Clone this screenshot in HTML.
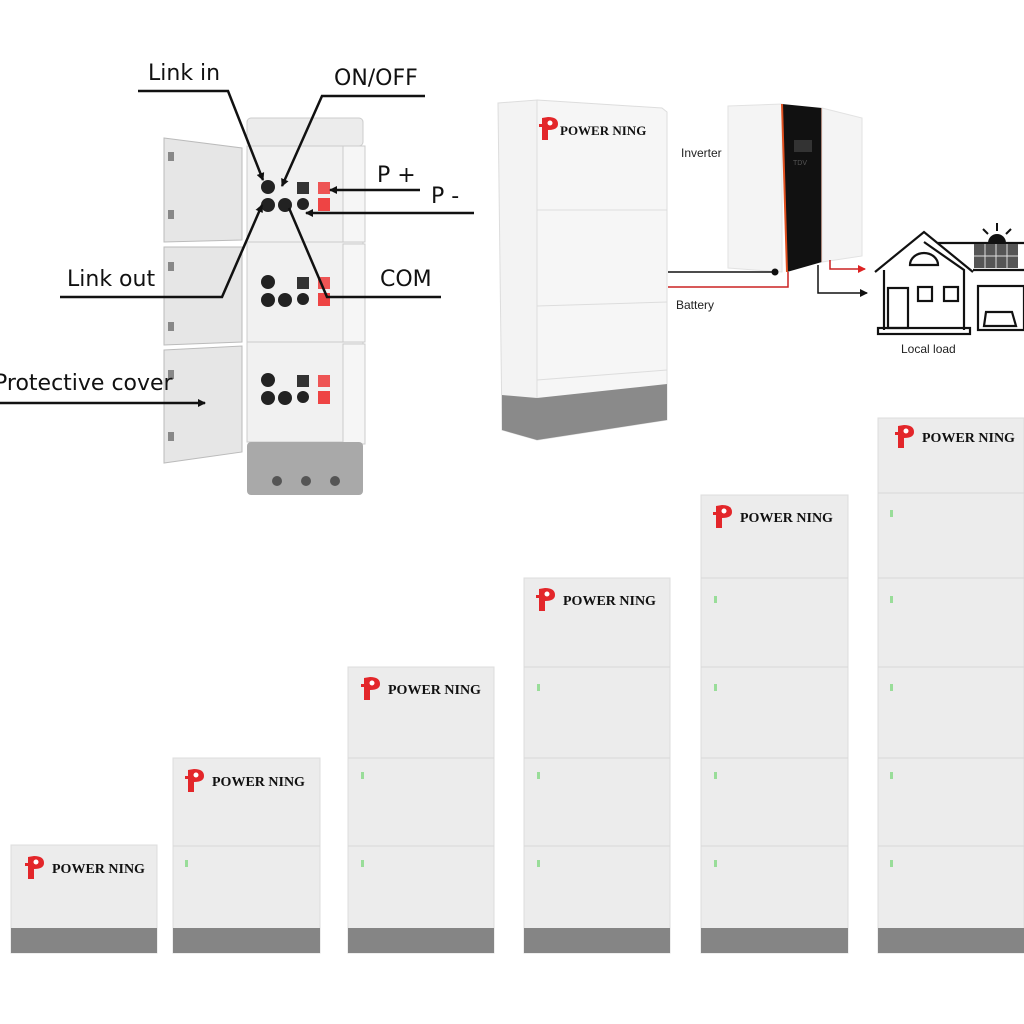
<!DOCTYPE html>
<html><head><meta charset="utf-8"><style>
html,body{margin:0;padding:0;background:#fff;width:1024px;height:1024px;overflow:hidden}
svg{display:block}
.lbl{font-family:"DejaVu Sans","Liberation Sans",sans-serif;font-size:22px;fill:#111}
.sm{font-family:"Liberation Sans",sans-serif;font-size:12px;fill:#222}
.logo{font-family:"Liberation Serif",serif;font-weight:bold;fill:#111}
</style></head><body>
<svg width="1024" height="1024" viewBox="0 0 1024 1024" xmlns="http://www.w3.org/2000/svg">
<defs>
<g id="plogo">
<path d="M0,-8 L0,14 L6,14 L6,4 Q16,4 16,-2 Q16,-9 6,-9 Z" fill="#e3262a"/>
<path d="M-3,-2 L4,-2 L4,1 L-3,1 Z" fill="#e3262a"/>
<circle cx="8" cy="-3" r="2.5" fill="#fff"/>
</g>
<marker id="ah" markerWidth="8" markerHeight="8" refX="7" refY="4" orient="auto" markerUnits="userSpaceOnUse"><path d="M0,0 L8,4 L0,8 Z" fill="#111"/></marker>
<marker id="ahr" markerWidth="8" markerHeight="8" refX="7" refY="4" orient="auto" markerUnits="userSpaceOnUse"><path d="M0,0 L8,4 L0,8 Z" fill="#d22"/></marker>
</defs>

<!-- Cabinet -->
<rect x="247" y="118" width="116" height="28" rx="4" fill="#ececec" stroke="#ccc"/>
<rect x="247" y="146" width="116" height="296" fill="#f1f1f1" stroke="#ccc"/>
<rect x="343" y="146" width="22" height="96" fill="#f6f6f6" stroke="#ccc"/>
<rect x="343" y="244" width="22" height="98" fill="#f6f6f6" stroke="#ccc"/>
<rect x="343" y="344" width="22" height="100" fill="#f6f6f6" stroke="#ccc"/>
<line x1="247" y1="242" x2="345" y2="242" stroke="#ccc"/>
<line x1="247" y1="342" x2="345" y2="342" stroke="#ccc"/>
<rect x="247" y="442" width="116" height="53" rx="4" fill="#a9a9a9"/>
<circle cx="277" cy="481" r="5" fill="#555"/><circle cx="306" cy="481" r="5" fill="#555"/><circle cx="335" cy="481" r="5" fill="#555"/>
<!-- doors -->
<polygon points="164,138 242,148 242,240 164,242" fill="#e6e6e6" stroke="#bbb"/>
<polygon points="164,247 242,247 242,342 164,345" fill="#e6e6e6" stroke="#bbb"/>
<polygon points="164,350 242,346 242,452 164,463" fill="#e6e6e6" stroke="#bbb"/>
<g fill="#888"><rect x="168" y="152" width="6" height="9"/><rect x="168" y="210" width="6" height="9"/><rect x="168" y="262" width="6" height="9"/><rect x="168" y="322" width="6" height="9"/><rect x="168" y="370" width="6" height="9"/><rect x="168" y="432" width="6" height="9"/></g>
<!-- connectors -->
<g>
<circle cx="268" cy="187" r="7" fill="#222"/><circle cx="268" cy="205" r="7" fill="#222"/><circle cx="285" cy="205" r="7" fill="#222"/>
<rect x="297" y="182" width="12" height="12" fill="#333"/><circle cx="303" cy="204" r="6" fill="#222"/>
<rect x="318" y="182" width="12" height="12" fill="#e55"/><rect x="318" y="198" width="12" height="13" fill="#e44"/>
<circle cx="268" cy="282" r="7" fill="#222"/><circle cx="268" cy="300" r="7" fill="#222"/><circle cx="285" cy="300" r="7" fill="#222"/>
<rect x="297" y="277" width="12" height="12" fill="#333"/><circle cx="303" cy="299" r="6" fill="#222"/>
<rect x="318" y="277" width="12" height="12" fill="#e55"/><rect x="318" y="293" width="12" height="13" fill="#e44"/>
<circle cx="268" cy="380" r="7" fill="#222"/><circle cx="268" cy="398" r="7" fill="#222"/><circle cx="285" cy="398" r="7" fill="#222"/>
<rect x="297" y="375" width="12" height="12" fill="#333"/><circle cx="303" cy="397" r="6" fill="#222"/>
<rect x="318" y="375" width="12" height="12" fill="#e55"/><rect x="318" y="391" width="12" height="13" fill="#e44"/>
</g>
<!-- callouts -->
<g stroke="#111" stroke-width="2.5" fill="none">
<polyline points="138,91 228,91 263,180" marker-end="url(#ah)"/>
<polyline points="425,96 322,96 282,186" marker-end="url(#ah)"/>
<line x1="420" y1="190" x2="330" y2="190" marker-end="url(#ah)"/>
<line x1="474" y1="213" x2="306" y2="213" marker-end="url(#ah)"/>
<polyline points="60,297 222,297 262,205" marker-end="url(#ah)"/>
<polyline points="441,297 327,297 289,208"/>
<line x1="0" y1="403" x2="205" y2="403" marker-end="url(#ah)"/>
</g>
<text class="lbl" x="148" y="80">Link in</text>
<text class="lbl" x="334" y="85">ON/OFF</text>
<text class="lbl" x="377" y="182">P +</text>
<text class="lbl" x="431" y="203">P -</text>
<text class="lbl" x="67" y="286">Link out</text>
<text class="lbl" x="380" y="286">COM</text>
<text class="lbl" x="-6" y="390">Protective cover</text>

<!-- Big battery -->
<polygon points="498,103 537,100 537,440 502,430" fill="#f3f3f3" stroke="#ddd"/>
<polygon points="537,100 662,108 667,112 667,420 537,440" fill="#f6f6f6" stroke="#ddd"/>
<line x1="537" y1="210" x2="667" y2="210" stroke="#ddd"/>
<line x1="537" y1="306" x2="667" y2="302" stroke="#ddd"/>
<line x1="537" y1="380" x2="667" y2="370" stroke="#ddd"/>
<polygon points="502,395 537,398 667,384 667,420 537,440 502,430" fill="#8a8a8a"/>
<use href="#plogo" x="542" y="126"/>
<text class="logo" x="560" y="135" font-size="13">POWER NING</text>

<!-- Inverter -->
<polygon points="728,106 782,104 782,272 728,268" fill="#f4f4f4" stroke="#e2e2e2"/>
<polygon points="782,104 822,108 822,262 787,272" fill="#111"/>
<line x1="782" y1="104" x2="787" y2="272" stroke="#e05020" stroke-width="2"/>
<line x1="822" y1="108" x2="822" y2="262" stroke="#e05020" stroke-width="1.5"/>
<polygon points="822,108 862,118 862,256 822,262" fill="#f4f4f4" stroke="#e2e2e2"/>
<rect x="794" y="140" width="18" height="12" fill="#333"/>
<text x="793" y="165" font-size="7" fill="#555" font-family="Liberation Sans,sans-serif">TDV</text>
<text class="sm" x="681" y="157">Inverter</text>
<text class="sm" x="676" y="309">Battery</text>
<line x1="668" y1="272" x2="775" y2="272" stroke="#111" stroke-width="1.5"/>
<circle cx="775" cy="272" r="3.5" fill="#111"/>
<polyline points="668,287 788,287 788,272" fill="none" stroke="#c22" stroke-width="1.5"/>
<polyline points="830,260 830,269 865,269" fill="none" stroke="#c22" stroke-width="1.5" marker-end="url(#ahr)"/>
<polyline points="818,265 818,293 867,293" fill="none" stroke="#111" stroke-width="1.5" marker-end="url(#ah)"/>

<!-- House -->
<g fill="none" stroke="#111" stroke-width="2.2">
<polyline points="875,272 924,232 973,272"/>
<polyline points="884,270 884,330"/>
<polyline points="924,242 964,270 964,330"/>
<line x1="938" y1="243" x2="1024" y2="243"/>
<line x1="973" y1="270" x2="1024" y2="270"/>
<rect x="878" y="328" width="92" height="6"/>
<rect x="888" y="288" width="20" height="40"/>
<rect x="918" y="287" width="14" height="14"/><rect x="944" y="287" width="14" height="14"/>
<path d="M910,265 A14,12 0 0 1 938,265 Z"/>
<rect x="978" y="286" width="46" height="44"/>
<path d="M984,326 L986,312 L1012,312 L1016,326 Z"/>
</g>
<rect x="974" y="244" width="44" height="24" fill="#555"/>
<g stroke="#ddd" stroke-width="1"><line x1="985" y1="244" x2="985" y2="268"/><line x1="996" y1="244" x2="996" y2="268"/><line x1="1007" y1="244" x2="1007" y2="268"/><line x1="974" y1="256" x2="1018" y2="256"/></g>
<path d="M988,243 A9,9 0 0 1 1006,243 Z" fill="#111"/>
<g stroke="#111" stroke-width="2"><line x1="997" y1="231" x2="997" y2="223"/><line x1="988" y1="234" x2="983" y2="229"/><line x1="1006" y1="234" x2="1011" y2="229"/></g>
<text class="sm" x="901" y="353">Local load</text>

<!-- Stacks -->
<g id="stacks">
<rect x="11" y="845" width="146" height="108" fill="#ececec" stroke="#ddd"/>
<rect x="11" y="928" width="146" height="25" fill="#858585"/>
<use href="#plogo" x="28" y="865"/><text class="logo" x="52" y="873" font-size="14">POWER NING</text>

<rect x="173" y="758" width="147" height="195" fill="#ececec" stroke="#ddd"/>
<line x1="173" y1="846" x2="320" y2="846" stroke="#d8d8d8"/>
<rect x="173" y="928" width="147" height="25" fill="#858585"/>
<use href="#plogo" x="188" y="778"/><text class="logo" x="212" y="786" font-size="14">POWER NING</text>
<rect x="185" y="860" width="3" height="7" fill="#9d9"/>

<rect x="348" y="667" width="146" height="286" fill="#ececec" stroke="#ddd"/>
<line x1="348" y1="758" x2="494" y2="758" stroke="#d8d8d8"/><line x1="348" y1="846" x2="494" y2="846" stroke="#d8d8d8"/>
<rect x="348" y="928" width="146" height="25" fill="#858585"/>
<use href="#plogo" x="364" y="686"/><text class="logo" x="388" y="694" font-size="14">POWER NING</text>
<rect x="361" y="772" width="3" height="7" fill="#9d9"/><rect x="361" y="860" width="3" height="7" fill="#9d9"/>

<rect x="524" y="578" width="146" height="375" fill="#ececec" stroke="#ddd"/>
<line x1="524" y1="667" x2="670" y2="667" stroke="#d8d8d8"/><line x1="524" y1="758" x2="670" y2="758" stroke="#d8d8d8"/><line x1="524" y1="846" x2="670" y2="846" stroke="#d8d8d8"/>
<rect x="524" y="928" width="146" height="25" fill="#858585"/>
<use href="#plogo" x="539" y="597"/><text class="logo" x="563" y="605" font-size="14">POWER NING</text>
<rect x="537" y="684" width="3" height="7" fill="#9d9"/><rect x="537" y="772" width="3" height="7" fill="#9d9"/><rect x="537" y="860" width="3" height="7" fill="#9d9"/>

<rect x="701" y="495" width="147" height="458" fill="#ececec" stroke="#ddd"/>
<line x1="701" y1="578" x2="848" y2="578" stroke="#d8d8d8"/><line x1="701" y1="667" x2="848" y2="667" stroke="#d8d8d8"/><line x1="701" y1="758" x2="848" y2="758" stroke="#d8d8d8"/><line x1="701" y1="846" x2="848" y2="846" stroke="#d8d8d8"/>
<rect x="701" y="928" width="147" height="25" fill="#858585"/>
<use href="#plogo" x="716" y="514"/><text class="logo" x="740" y="522" font-size="14">POWER NING</text>
<rect x="714" y="596" width="3" height="7" fill="#9d9"/><rect x="714" y="684" width="3" height="7" fill="#9d9"/><rect x="714" y="772" width="3" height="7" fill="#9d9"/><rect x="714" y="860" width="3" height="7" fill="#9d9"/>

<rect x="878" y="418" width="146" height="535" fill="#ececec" stroke="#ddd"/>
<line x1="878" y1="493" x2="1024" y2="493" stroke="#d8d8d8"/><line x1="878" y1="578" x2="1024" y2="578" stroke="#d8d8d8"/><line x1="878" y1="667" x2="1024" y2="667" stroke="#d8d8d8"/><line x1="878" y1="758" x2="1024" y2="758" stroke="#d8d8d8"/><line x1="878" y1="846" x2="1024" y2="846" stroke="#d8d8d8"/>
<rect x="878" y="928" width="146" height="25" fill="#858585"/>
<use href="#plogo" x="898" y="434"/><text class="logo" x="922" y="442" font-size="14">POWER NING</text>
<rect x="890" y="510" width="3" height="7" fill="#9d9"/><rect x="890" y="596" width="3" height="7" fill="#9d9"/><rect x="890" y="684" width="3" height="7" fill="#9d9"/><rect x="890" y="772" width="3" height="7" fill="#9d9"/><rect x="890" y="860" width="3" height="7" fill="#9d9"/>
</g>
</svg>
</body></html>
